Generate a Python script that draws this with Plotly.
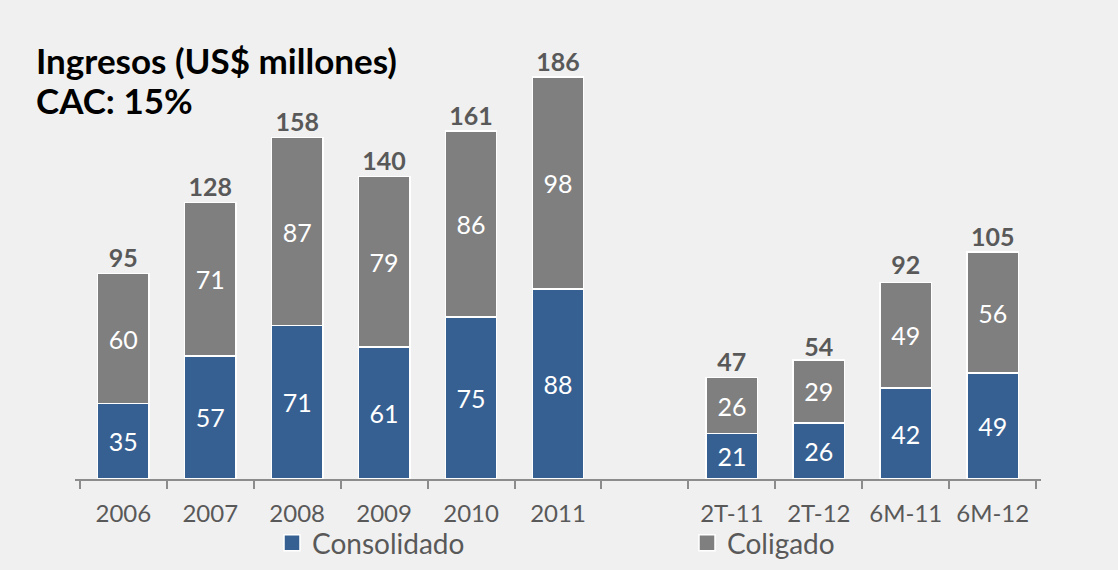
import plotly.graph_objects as go

categories = ["2006", "2007", "2008", "2009", "2010", "2011", " ", "2T-11", "2T-12", "6M-11", "6M-12"]
consolidado = [35, 57, 71, 61, 75, 88, None, 21, 26, 42, 49]
coligado = [60, 71, 87, 79, 86, 98, None, 26, 29, 49, 56]
totales = [95, 128, 158, 140, 161, 186, None, 47, 54, 92, 105]

BLUE = "#376092"
GRAY = "#7F7F7F"
BG = "#F0F0F0"
FONT = "Lato"

PL, PR, PT, PB = 75, 1118 - 1041, 30, 91
PW = 1118 - PL - PR
PH = 570 - PT - PB

fig = go.Figure()
for name, vals, col, leg in [("Consolidado", consolidado, BLUE, "legend"),
                             ("Coligado", coligado, GRAY, "legend2")]:
    fig.add_trace(go.Bar(
        x=categories, y=vals, name=name, showlegend=False,
        marker=dict(color=col, line=dict(color="white", width=1.5)),
        width=0.59,
        text=[("" if v is None else str(v)) for v in vals],
        textposition="inside", insidetextanchor="middle",
        textangle=0, constraintext="none",
        textfont=dict(color="white", size=25, family=FONT),
        hoverinfo="skip",
    ))
    # legend-only entry with a larger square swatch
    fig.add_trace(go.Scatter(
        x=[None], y=[None], mode="markers", name=name, legend=leg,
        marker=dict(symbol="square", size=16, color=col, line=dict(color="white", width=1.5)),
        hoverinfo="skip",
    ))

fig.add_trace(go.Scatter(
    x=categories, y=totales, mode="text",
    text=[("" if v is None else str(v)) for v in totales],
    textposition="top center",
    textfont=dict(color="#595959", size=25, family=FONT, weight="bold"),
    showlegend=False, hoverinfo="skip",
))

leg_common = dict(orientation="h", xanchor="left", yanchor="middle",
                  y=(479 - 543) / PH,
                  font=dict(size=28, color="#595959", family=FONT),
                  bgcolor="rgba(0,0,0,0)")

fig.update_layout(
    width=1118, height=570,
    barmode="stack",
    paper_bgcolor=BG, plot_bgcolor=BG,
    margin=dict(l=PL, r=PR, t=PT, b=PB, autoexpand=False),
    font=dict(family=FONT, color="#595959"),
    legend=dict(x=(272 - PL) / PW, **leg_common),
    legend2=dict(x=(687 - PL) / PW, **leg_common),
    showlegend=True,
)
fig.update_xaxes(
    type="category", showline=True, linecolor="#8C8C8C", linewidth=1.5,
    ticks="outside", tickson="boundaries", ticklen=8, tickcolor="#8C8C8C", tickwidth=1.5,
    tickfont=dict(size=24, color="#595959", family=FONT),
    ticklabelstandoff=12, showgrid=False, zeroline=False, automargin=False,
)
fig.update_yaxes(visible=False, range=[0, PH / 2.161], showgrid=False)

fig.add_annotation(text="<b>Ingresos (US$ millones)</b>", xref="paper", yref="paper",
                   x=(34 - PL) / PW, y=(479 - 60) / PH, xanchor="left", yanchor="middle",
                   showarrow=False, font=dict(size=35, color="black", family=FONT))
fig.add_annotation(text="<b>CAC: 15%</b>", xref="paper", yref="paper",
                   x=(34 - PL) / PW, y=(479 - 100) / PH, xanchor="left", yanchor="middle",
                   showarrow=False, font=dict(size=35, color="black", family=FONT))

fig.write_html("out.html", config={"displayModeBar": False},
               post_script="document.body.style.margin='0';")
